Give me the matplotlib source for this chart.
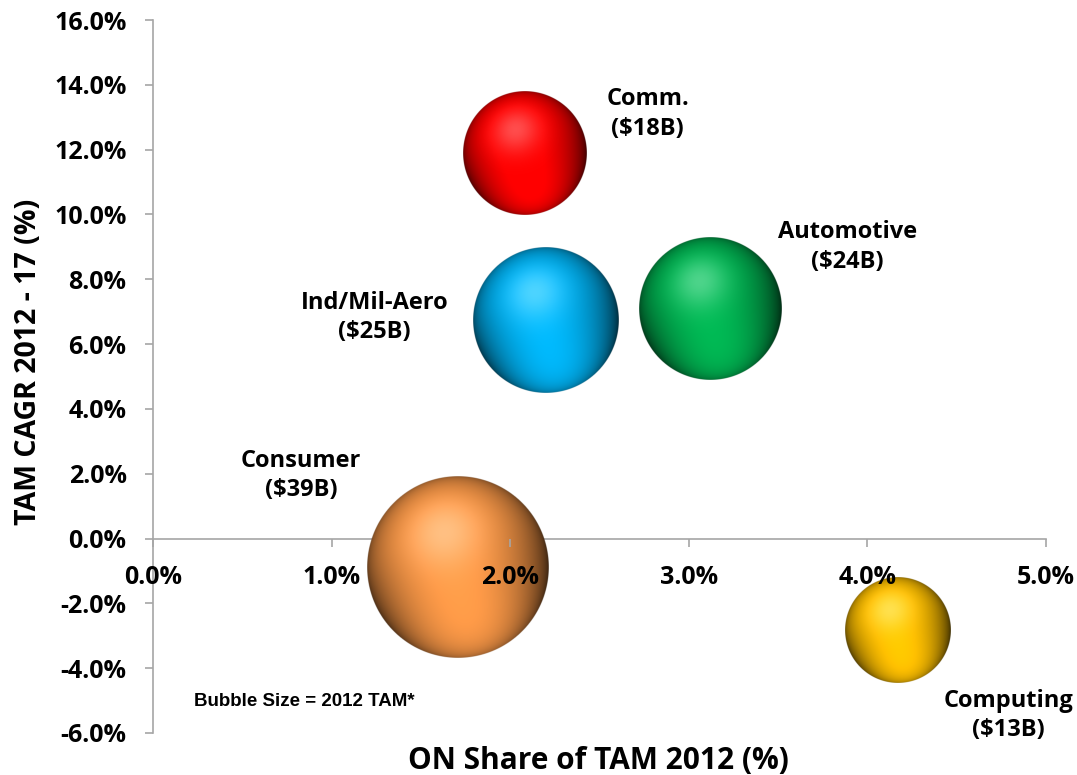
import numpy as np
import matplotlib
matplotlib.use("Agg")
import matplotlib.pyplot as plt
from matplotlib.colors import to_rgb
from matplotlib.ticker import FuncFormatter

# Market segments: ON share of TAM vs TAM growth, bubble area = 2012 TAM
segments = ["Comm.", "Automotive", "Ind/Mil-Aero", "Consumer", "Computing"]
tam_billions = [18, 24, 25, 39, 13]
on_share_pct = [2.08, 3.12, 2.20, 1.71, 4.17]
tam_cagr_pct = [11.9, 7.1, 6.75, -0.87, -2.85]
colors = ["#FF0000", "#00B050", "#00B0F0", "#F79646", "#FFC000"]

# where each segment's caption sits (data coordinates)
caption_xy = [(2.77, 13.1), (3.89, 9.0), (1.24, 6.82), (0.83, 1.95), (4.79, -5.46)]

x_ticks = [0, 1, 2, 3, 4, 5]
y_ticks = [-6, -4, -2, 0, 2, 4, 6, 8, 10, 12, 14, 16]

FONT = "Open Sans"
MAX_RADIUS_PX = 91.0  # radius of the largest bubble


def sphere_rgba(hex_color, n=400):
    """Shaded sphere image with transparent corners."""
    base = np.array(to_rgb(hex_color))
    lin = np.linspace(-1, 1, n)
    u, v = np.meshgrid(lin, lin)
    r = np.sqrt(u ** 2 + v ** 2)
    w = np.sqrt(np.clip(1 - r ** 2, 0, 1))
    nrm = np.stack([u, v, w], axis=-1)

    key = np.array([-0.15, 0.38, 0.91])
    key /= np.linalg.norm(key)
    wrap = 0.4
    d1 = np.clip((nrm @ key + wrap) / (1 + wrap), 0, 1)

    rim = np.array([0.2, -0.9, 0.4])
    rim /= np.linalg.norm(rim)
    d2 = np.clip(nrm @ rim, 0, 1)

    inten = 0.12 + 0.98 * d1 ** 1.5 + 0.6 * d2 ** 2.5
    rgb = np.clip(base[None, None, :] * inten[..., None], 0, 1)

    hl = 0.3 * np.clip(nrm @ key, 0, 1) ** 14
    rgb = rgb + (1 - rgb) * hl[..., None]

    alpha = np.clip((1 - r) * n / 2 + 0.5, 0, 1)
    return np.dstack([rgb, alpha])


fig = plt.figure(figsize=(10.77, 7.75), dpi=100)
fig.patch.set_facecolor("white")
ax = fig.add_axes([153 / 1077, 42 / 775, 893 / 1077, 713 / 775])

ax.set_xlim(0, 5)
ax.set_ylim(-6, 16)

# pixel scale of the data axes, used to keep bubbles round on screen
bbox = ax.get_window_extent()
px_per_x = bbox.width / 5.0
px_per_y = bbox.height / 22.0
vmax = max(tam_billions)

for x, y, tam, col in zip(on_share_pct, tam_cagr_pct, tam_billions, colors):
    r_px = MAX_RADIUS_PX * np.sqrt(tam / vmax)
    rx = r_px / px_per_x
    ry = r_px / px_per_y
    ax.imshow(sphere_rgba(col), extent=[x - rx, x + rx, y - ry, y + ry],
              origin="lower", aspect="auto", interpolation="antialiased",
              zorder=3)

for name, tam, (cx, cy) in zip(segments, tam_billions, caption_xy):
    ax.text(cx, cy, f"{name}\n(${tam}B)", ha="center", va="center",
            fontsize=17, fontweight="bold", family=FONT, color="black",
            linespacing=1.3, zorder=5)

ax.set_xlim(0, 5)
ax.set_ylim(-6, 16)

# Axes styling: y-axis at x=0, x-axis crossing at y=0
spine_col = "#A6A6A6"
for side in ["top", "right"]:
    ax.spines[side].set_visible(False)
ax.spines["bottom"].set_position(("data", 0))
for side in ["left", "bottom"]:
    ax.spines[side].set_color(spine_col)
    ax.spines[side].set_linewidth(1.2)
    ax.spines[side].set_zorder(2)

ax.set_xticks(x_ticks)
ax.set_yticks(y_ticks)
ax.xaxis.set_major_formatter(FuncFormatter(lambda v, p: f"{v:.1f}%"))
ax.yaxis.set_major_formatter(FuncFormatter(lambda v, p: f"{v:.1f}%"))
ax.tick_params(axis="both", direction="out", length=6, width=1.2,
               color=spine_col, labelsize=18)
ax.tick_params(axis="y", pad=13)
ax.tick_params(axis="x", pad=13)
for lab in ax.get_xticklabels() + ax.get_yticklabels():
    lab.set_fontweight("bold")
    lab.set_family(FONT)
ax.xaxis.set_zorder(4)
ax.yaxis.set_zorder(4)
ax.set_facecolor("none")

fig.text(29 / 1077, 1 - 362 / 775, "TAM CAGR 2012 - 17 (%)", rotation=90,
         ha="center", va="center", fontsize=20.5, fontweight="bold", family=FONT)
fig.text(598 / 1077, 1 - 761 / 775, "ON Share of TAM 2012 (%)",
         ha="center", va="center", fontsize=21.5, fontweight="bold", family=FONT)
ax.text(0.23, -5.02, "Bubble Size = 2012 TAM*", ha="left", va="center",
        fontsize=13.5, fontweight="bold", family="Liberation Sans", zorder=5)

fig.savefig("out.png", dpi=100, facecolor="white")
